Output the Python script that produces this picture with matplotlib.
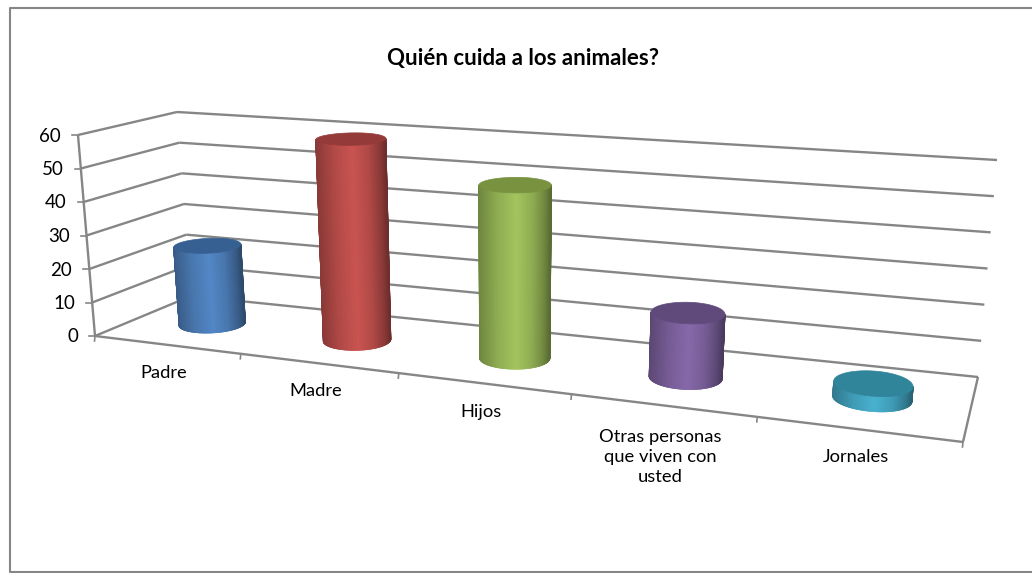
import numpy as np
import matplotlib
matplotlib.use("Agg")
import matplotlib.pyplot as plt
from matplotlib.collections import LineCollection
from matplotlib.colors import LinearSegmentedColormap, to_rgb

plt.rcParams['font.family'] = ['Lato', 'DejaVu Sans']

# data
title = 'Quién cuida a los animales?'
categories = ['Padre', 'Madre', 'Hijos', 'Otras personas\nque viven con\nusted', 'Jornales']
values = [24, 60, 50, 18, 4]
y_ticks = [0, 10, 20, 30, 40, 50, 60]
side_colors = ['#4f81bd', '#c0504d', '#9bbb59', '#8064a2', '#45a9c6']
top_colors = ['#376092', '#943a38', '#78923f', '#604a7b', '#31859b']

# box corners of the 3D plot, in pixels
floor_front = np.array([[95, 336], [963, 442]], dtype=float)
floor_back = np.array([[191, 296], [978, 377]], dtype=float)
top_front = np.array([[78, 135], [984, 207]], dtype=float)
top_back = np.array([[177, 112], [997, 160]], dtype=float)
# where the category ticks fall along the front edge (perspective)
cat_edges = [0, 0.168, 0.350, 0.549, 0.763, 1]
y_max = 60
grid_color = '#868686'
label_dy = [20, 20, 20, 23, 20]
# brightness across a cylinder, left edge to right edge
shade_pos = [0, 0.25, 0.52, 0.75, 0.92, 1]
shade_val = [0.72, 0.92, 1.05, 0.92, 0.72, 0.58]


def project(c, d, v):
    # category position, depth (0 front, 1 back), value -> pixel x, y
    c = np.asarray(c, dtype=float)
    d = np.asarray(d, dtype=float)
    v = np.asarray(v, dtype=float)
    u = np.interp(c, range(len(cat_edges)), cat_edges)[..., None]
    d = d[..., None]
    k = (v / y_max)[..., None]
    floor_pt = (1 - d) * ((1 - u) * floor_front[0] + u * floor_front[1]) + d * ((1 - u) * floor_back[0] + u * floor_back[1])
    top_pt = (1 - d) * ((1 - u) * top_front[0] + u * top_front[1]) + d * ((1 - u) * top_back[0] + u * top_back[1])
    p = (1 - k) * floor_pt + k * top_pt
    return p[..., 0], p[..., 1]


def line3d(ax, a, b, lw=1.7):
    x0, y0 = project(*a)
    x1, y1 = project(*b)
    ax.plot([x0, x1], [y0, y1], color=grid_color, lw=lw, solid_capstyle='butt', zorder=2)


def front_arc(xs, ys, count=80):
    # front half of a closed outline, left extreme to right extreme, resampled
    n = len(xs) - 1
    k_left = int(np.argmin(xs[:-1]))
    k_right = int(np.argmax(xs[:-1]))
    steps = (k_right - k_left) % n
    idx = (k_left + np.arange(steps + 1)) % n
    pos = np.linspace(0, steps, count + 1)
    return np.interp(pos, np.arange(steps + 1), xs[idx]), np.interp(pos, np.arange(steps + 1), ys[idx])


def draw_cylinder(ax, i, value, side, top):
    theta = np.linspace(0, 2 * np.pi, 361)
    c = i + 0.5 + 0.2 * np.cos(theta)
    d = 0.5 + 0.2 * np.sin(theta)
    xb, yb = project(c, d, np.zeros_like(c))
    xt, yt = project(c, d, np.full_like(c, value))

    xb_arc, yb_arc = front_arc(xb, yb)
    xt_arc, yt_arc = front_arc(xt, yt)

    rgb = np.array(to_rgb(side))
    stops = [(p, tuple(np.clip(rgb * s, 0, 1))) for p, s in zip(shade_pos, shade_val)]
    cmap = LinearSegmentedColormap.from_list('side', stops)
    t_b = (xb_arc - xb_arc[0]) / (xb_arc[-1] - xb_arc[0])
    t_t = (xt_arc - xt_arc[0]) / (xt_arc[-1] - xt_arc[0])
    ax.pcolormesh(np.vstack([xb_arc, xt_arc]), np.vstack([yb_arc, yt_arc]), np.vstack([t_b, t_t]),
                  shading='gouraud', cmap=cmap, vmin=0, vmax=1, zorder=3)

    # gouraud meshes have no antialiasing, so soften the outline with thin lines
    for k in (0, -1):
        ax.plot([xb_arc[k], xt_arc[k]], [yb_arc[k], yt_arc[k]], color=cmap(t_b[k]), lw=0.8, zorder=3.1)
    pts = np.column_stack([xb_arc, yb_arc])
    segs = np.stack([pts[:-1], pts[1:]], axis=1)
    ax.add_collection(LineCollection(segs, colors=cmap(t_b[:-1]), linewidths=0.8, zorder=3.1))

    ax.fill(xt, yt, color=top, lw=0.5, zorder=4)


def main():
    fig = plt.figure(figsize=(10.32, 5.73), dpi=100)
    ax = fig.add_axes([0, 0, 1, 1])
    ax.set_xlim(0, 1032)
    ax.set_ylim(573, 0)
    ax.axis('off')

    # chart border, the right side is cut off
    ax.plot([1032, 9.5, 9.5, 1032], [7.5, 7.5, 571.5, 571.5], color='#868686', lw=1.5)

    ax.text(523, 58, title, ha='center', va='center', fontsize=16, fontweight='bold', color='black')

    n = len(categories)
    # gridlines on the side wall and the back wall
    for v in y_ticks:
        line3d(ax, (0, 0, v), (0, 1, v))
        line3d(ax, (0, 1, v), (n, 1, v))
        x, y = project(0, 0, v)
        ax.plot([x - 6, x], [y, y], color=grid_color, lw=1.2, zorder=2)
        ax.text(x - 17, y + 1, str(v), ha='right', va='center', fontsize=13.5, color='black')

    # axis and floor
    line3d(ax, (0, 0, 0), (0, 0, y_max))
    line3d(ax, (0, 0, 0), (n, 0, 0))
    line3d(ax, (n, 0, 0), (n, 1, 0))

    for i in range(n + 1):
        x, y = project(i, 0, 0)
        ax.plot([x, x - 0.5], [y, y + 5], color=grid_color, lw=1.2, zorder=2)

    for i, label in enumerate(categories):
        x, y = project(i + 0.5, 0, 0)
        ax.text(x - 4, y + label_dy[i], label, ha='center', va='top', fontsize=13.2, color='black', linespacing=1.33)

    for i, value in enumerate(values):
        draw_cylinder(ax, i, value, side_colors[i], top_colors[i])

    fig.savefig('out.png', dpi=100, facecolor='white')
    plt.close(fig)


if __name__ == "__main__":
    main()
